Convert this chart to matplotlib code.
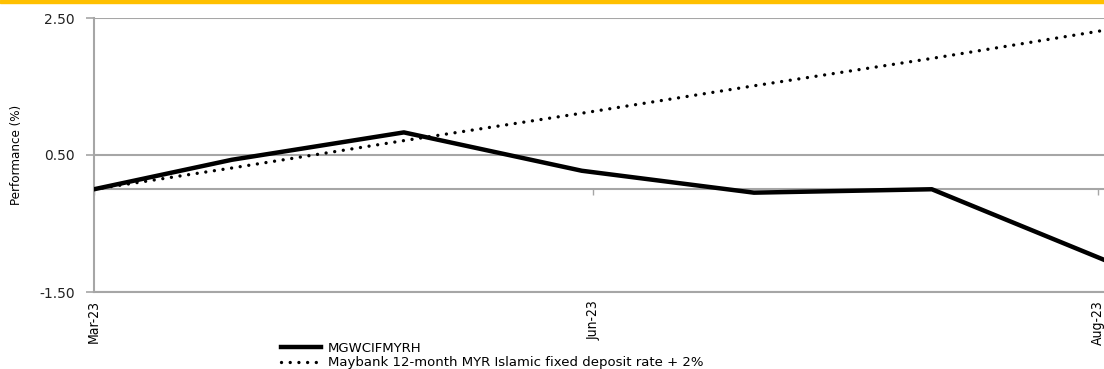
import matplotlib
matplotlib.use('Agg')
import matplotlib.pyplot as plt
import matplotlib.dates as mdates
from matplotlib.patches import Rectangle
from datetime import datetime

# data
dates = ['2023-03-07', '2023-03-31', '2023-04-30', '2023-05-31',
         '2023-06-30', '2023-07-31', '2023-08-30']
fund = [0.00, 0.43, 0.83, 0.27, -0.05, 0.00, -1.03]
benchmark = [0.00, 0.31, 0.71, 1.11, 1.51, 1.91, 2.32]
fund_name = 'MGWCIFMYRH'
bench_name = 'Maybank 12-month MYR Islamic fixed deposit rate + 2%'
tick_dates = ['2023-03-07', '2023-06-02', '2023-08-29']
tick_labels = ['Mar-23', 'Jun-23', 'Aug-23']
y_ticks = [-1.50, 0.50, 2.50]

x = mdates.date2num([datetime.strptime(d, '%Y-%m-%d') for d in dates])
xt = mdates.date2num([datetime.strptime(d, '%Y-%m-%d') for d in tick_dates])

grey = '#a6a6a6'

fig = plt.figure(figsize=(11.04, 3.69), dpi=100)
fig.patches.append(Rectangle((0, 0.993), 1, 0.007, transform=fig.transFigure,
                             color='#ffc000', zorder=0))
ax = fig.add_axes([94 / 1104, 1 - 292 / 369, 1 - 94 / 1104, (292 - 18) / 369])

ax.plot(x, benchmark, color='black', lw=2.4, linestyle=(0, (0.01, 2.6)),
        dash_capstyle='round', label=bench_name, zorder=3)
ax.plot(x, fund, color='black', lw=3.2, label=fund_name, zorder=4)

ax.set_xlim(x[0], x[-1])
ax.set_ylim(-1.5, 2.5)
ax.set_yticks(y_ticks)
ax.set_yticklabels(['%.2f' % v for v in y_ticks], fontsize=10, color='#222222')
ax.yaxis.grid(True, color=grey, lw=1.5)
ax.tick_params(axis='y', length=6, width=1.2, color=grey, pad=8)

ax.set_xticks(xt)
ax.set_xticklabels(tick_labels, rotation=90, fontsize=10, fontstretch='condensed', va='top')
ax.tick_params(axis='x', length=0, pad=6)

# category axis crossing at zero
zero_pos = (0 - (-1.5)) / 4.0
sec = ax.secondary_xaxis(zero_pos)
sec.set_xticks(xt)
sec.set_xticklabels([])
sec.tick_params(axis='x', length=4, width=1, color=grey, direction='out')
sec.spines['bottom'].set_color(grey)
sec.spines['bottom'].set_linewidth(1.5)

for s in ['top', 'right']:
    ax.spines[s].set_visible(False)
for s in ['left', 'bottom']:
    ax.spines[s].set_color(grey)
    ax.spines[s].set_linewidth(1.5)

ax.set_ylabel('Performance (%)', fontstretch='condensed', fontsize=9.5)
ax.yaxis.set_label_coords(-71 / 1010, 0.5)

h, l = ax.get_legend_handles_labels()
fig.legend(h[::-1], l[::-1], loc='upper left', bbox_to_anchor=(281 / 1104, 1 - 342 / 369),
           frameon=False, fontsize=9.5, handlelength=3.0, handletextpad=0.55,
           labelspacing=0.1, borderpad=0, borderaxespad=0)

fig.savefig('out.png', dpi=100)
